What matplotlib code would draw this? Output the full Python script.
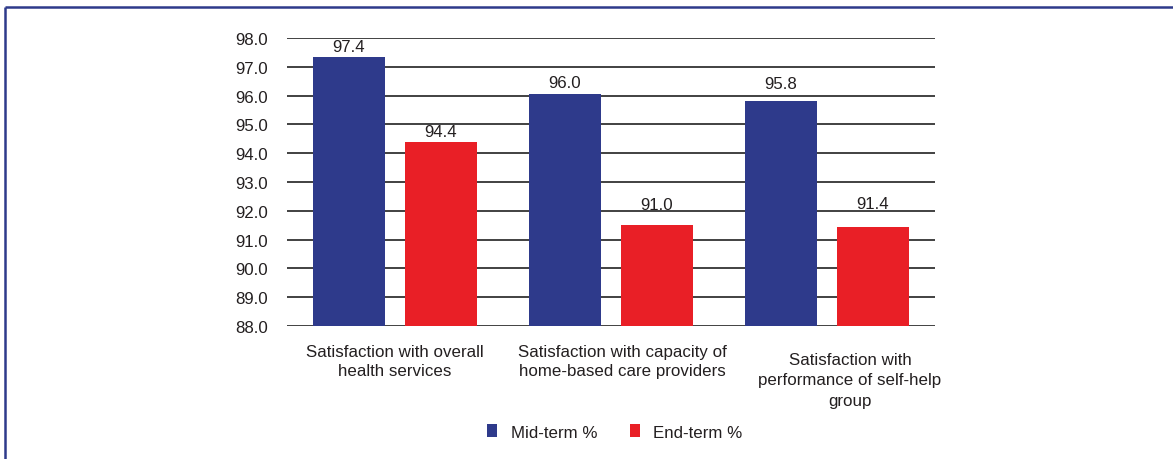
import matplotlib
matplotlib.use("Agg")
import matplotlib.pyplot as plt
from matplotlib.lines import Line2D
from matplotlib.patches import Patch
from matplotlib import transforms
import numpy as np

categories = [
    "Satisfaction with overall\nhealth services",
    "Satisfaction with capacity of\nhome-based care providers",
    "Satisfaction with\nperformance of self-help\ngroup",
]
series_names = ["Mid-term %", "End-term %"]
mid_term = [97.35, 96.05, 95.8]
end_term = [94.4, 91.5, 91.45]
mid_labels = ["97.4", "96.0", "95.8"]
end_labels = ["94.4", "91.0", "91.4"]
y_ticks = [88.0, 89.0, 90.0, 91.0, 92.0, 93.0, 94.0, 95.0, 96.0, 97.0, 98.0]

BLUE = "#2E3A8B"
RED = "#E91F26"
TXT = "#231F20"
FS = 12.2

plt.rcParams["font.family"] = ["Liberation Sans", "DejaVu Sans"]

W, H = 1173, 460
fig = plt.figure(figsize=(W / 100, H / 100), dpi=100)
ax = fig.add_axes([287 / W, 1 - 327 / H, (935 - 287) / W, (327 - 39) / H])

x = np.arange(len(categories))
bw = 0.33
off = 0.213
b1 = ax.bar(x - off, mid_term, bw, color=BLUE, zorder=3, label=series_names[0])
b2 = ax.bar(x + off, end_term, bw, color=RED, zorder=3, label=series_names[1])

# pixel gap between bar top and label centre
mid_gap = [10, 12, 18]
end_gap = [10, 21, 23]
for bars, labs, gaps in ((b1, mid_labels, mid_gap), (b2, end_labels, end_gap)):
    for r, t, g in zip(bars, labs, gaps):
        ax.annotate(t, (r.get_x() + r.get_width() / 2, r.get_height()),
                    xytext=(0, g * 0.72), textcoords="offset points",
                    ha="center", va="center", fontsize=FS, color=TXT)

ax.set_ylim(88, 98)
ax.set_xlim(-0.5, 2.5)
ax.set_yticks(y_ticks)
ax.set_yticklabels([f"{v:.1f}" for v in y_ticks], fontsize=FS, color=TXT)
ax.tick_params(axis="y", length=0, pad=13.5)
ax.set_xticks([])
for s in ax.spines.values():
    s.set_visible(False)
ax.yaxis.grid(True, color="#333333", linewidth=1.3, zorder=0)
ax.set_axisbelow(True)

# category labels
label_dx = [0, 11, 23]      # pixel offsets
label_dy = [-18, -18, -26]  # pixel offsets below axis bottom
label_ls = [1.35, 1.35, 1.45]
for i, (c, dx, dy, ls) in enumerate(zip(categories, label_dx, label_dy, label_ls)):
    tr = transforms.blended_transform_factory(ax.transData, ax.transAxes) + \
        transforms.ScaledTranslation(dx / 100, dy / 100, fig.dpi_scale_trans)
    ax.text(i, 0, c, transform=tr, ha="center", va="top", fontsize=FS,
            color=TXT, linespacing=ls)

handles = [Patch(facecolor=BLUE), Patch(facecolor=RED)]
fig.legend(handles, series_names, loc="center", bbox_to_anchor=(615 / W, 1 - 433 / H),
           ncol=2, frameon=False, fontsize=FS, handlelength=0.6, handleheight=0.75,
           handletextpad=0.8, columnspacing=1.9, labelcolor=TXT)

# frame lines (top and left)
fig.add_artist(Line2D([5 / W, 1], [1 - 8 / H, 1 - 8 / H], color=BLUE, lw=1.8,
                      transform=fig.transFigure, solid_capstyle="butt"))
fig.add_artist(Line2D([5 / W, 5 / W], [0, 1 - 8 / H], color=BLUE, lw=1.8,
                      transform=fig.transFigure, solid_capstyle="butt"))

fig.savefig("out.png", dpi=100)
